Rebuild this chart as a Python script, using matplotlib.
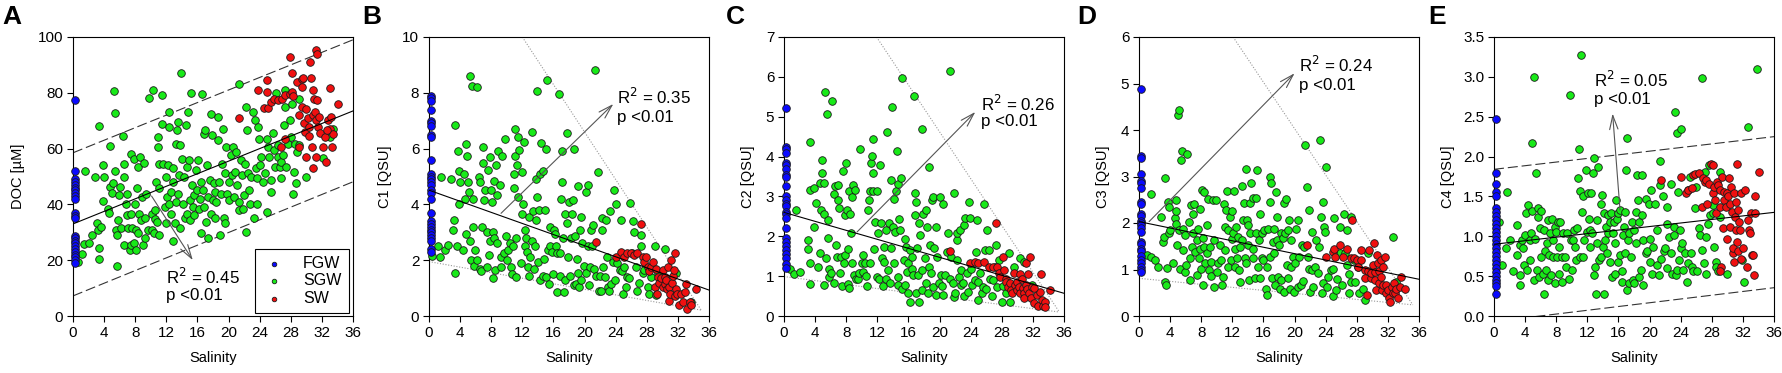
import numpy as np
import matplotlib
matplotlib.use('Agg')
import matplotlib.pyplot as plt

plt.rcParams['font.family'] = ['Liberation Sans', 'DejaVu Sans']

# ---------------- data ----------------
fgw_sal = 0.2  # fresh groundwater sits at salinity ~0

# Panel A: DOC [uM]
a_fgw = [77.5, 52, 49, 48, 47, 46, 45, 44, 43, 42, 37, 36, 35, 28.5, 28, 27, 26, 25, 24, 23, 22, 21, 20, 19]
a_sgw = [(0.6, 19.5), (1.1, 22.4), (1.6, 52), (1.4, 25.7), (2, 26), (2.5, 29), (2.8, 49.9), (3.1, 33.4), (3.2, 30.8),
         (3.4, 24.2), (3.3, 20.6), (3.3, 68.2), (3.6, 32), (3.8, 41.2), (3.9, 54), (4, 50), (4.5, 38.5), (4.6, 36.8),
         (4.7, 46.3), (4.8, 61), (5, 44), (5.1, 47.5), (5.3, 80.7), (5.4, 72.6), (5.4, 52), (5.5, 30.8), (5.6, 18),
         (5.7, 29), (5.8, 34.4), (5.9, 43.3), (6, 46.3), (6.2, 31.4), (6.4, 64.6), (6.5, 54.6), (6.6, 49.9), (6.6, 25.4),
         (6.8, 40.3), (6.9, 36.2), (7, 43.9), (7.1, 31.4), (7.3, 23.6), (7.4, 25.4), (7.4, 36.7), (7.5, 58), (7.6, 31.4),
         (7.8, 26.3), (7.9, 56.4), (8, 40.3), (8.1, 31), (8.1, 23.6), (8.2, 45.7), (8.3, 53.5), (8.4, 29.6), (8.5, 36.7),
         (8.6, 57), (8.8, 34.4), (8.9, 42.7), (9, 25.4), (9.1, 54.9), (9.2, 35), (9.3, 27.8), (9.4, 43.9), (9.6, 31),
         (9.8, 78.3), (10.1, 30.8), (10.2, 36.7), (10.3, 81.1), (10.4, 29.6), (10.5, 34.6), (10.6, 37.9), (10.7, 48.1),
         (10.8, 33.8), (10.9, 64.2), (10.9, 60.6), (11, 54.6), (11.1, 29), (11.1, 45.7), (11.4, 79.1), (11.5, 68.7),
         (11.6, 54.6), (11.8, 39.1), (11.9, 33.2), (12, 49.9), (12.1, 42.7), (12.2, 54), (12.3, 73.1), (12.3, 67.8),
         (12.4, 40.3), (12.6, 36.7), (12.6, 44.5), (12.8, 52.9), (12.9, 27), (12.9, 48.1), (13.1, 33.2), (13.2, 40.9),
         (13.3, 61.8), (13.4, 66.6), (13.5, 69.6), (13.5, 43.9), (13.6, 50.5), (13.7, 31.4), (13.8, 61.2), (13.9, 87.1),
         (14, 56.4), (14.1, 40.3), (14.3, 49.9), (14.4, 35), (14.5, 68.4), (14.6, 53.5), (14.7, 36.7), (14.8, 73.1),
         (14.9, 55.8), (15, 34.4), (15.1, 41.5), (15.2, 80), (15.3, 46.9), (15.4, 39.1), (15.6, 36.2), (15.6, 43.3),
         (15.8, 52.3), (15.9, 45.1), (16.1, 55.8), (16.2, 38.5), (16.3, 42.1), (16.4, 29.8), (16.5, 48.1), (16.6, 79.7),
         (16.7, 45.1), (16.8, 39.1), (16.9, 65.4), (17, 66.6), (17.1, 33.8), (17.2, 54), (17.4, 42.7), (17.4, 28),
         (17.6, 48.7), (17.7, 72.5), (17.8, 36.7), (17.9, 64.8), (18, 41.5), (18.1, 47.7), (18.2, 35), (18.3, 44.5),
         (18.4, 40.9), (18.6, 63), (18.6, 71.4), (18.8, 48.1), (18.9, 29), (19, 43.9), (19.1, 54.6), (19.3, 67.2),
         (19.4, 35), (19.5, 51.1), (19.6, 33.2), (19.7, 60.6), (19.8, 43.9), (20, 41.5), (20.1, 48.1), (20.3, 57.6),
         (20.4, 50.5), (20.6, 60.6), (20.7, 42.7), (20.8, 51.7), (21, 58.8), (21.1, 46.9), (21.3, 83.3), (21.3, 37.9),
         (21.4, 40.9), (21.6, 55.8), (21.7, 50.5), (21.8, 38.5), (22, 43.3), (22.1, 54.6), (22.2, 30.2), (22.3, 74.9),
         (22.4, 66.6), (22.5, 51.1), (22.6, 45.1), (22.7, 40.3), (22.9, 49.9), (23.1, 73.1), (23.3, 35), (23.4, 70.2),
         (23.5, 52.9), (23.6, 40.3), (23.7, 49.3), (23.8, 67.8), (23.9, 63.6), (24, 54), (24.2, 57), (24.4, 48.1),
         (24.7, 51.1), (24.9, 37.4), (25, 63.6), (25.1, 60.6), (25.2, 57), (25.4, 48.7), (25.5, 44.5), (25.7, 65.6),
         (25.8, 59.4), (26, 53.5), (26.1, 80.1), (26.3, 61.2), (26.4, 57), (26.6, 53.5), (26.7, 49.3), (26.8, 55.3),
         (27, 57.6), (27.1, 68.4), (27.3, 80.9), (27.3, 74.9), (27.4, 53.5), (27.6, 61.8), (27.9, 70.2), (28, 64.2),
         (28.1, 76.1), (28.3, 43.9), (28.4, 51.7), (28.5, 61.6), (28.7, 47.5), (28.8, 58.8), (29, 77.6), (29.1, 61.2),
         (30, 49.9), (32.1, 56.7), (33.4, 66.9), (33.1, 64.2)]
a_sw = [(21.4, 70.8), (23.8, 81.1), (24.6, 74.7), (24.9, 84.5), (24.9, 80.3), (25.1, 74.7), (25.5, 76.7), (25.8, 77.9),
        (26.4, 77.3), (26.9, 77.9), (27.2, 63.6), (26.8, 60.6), (27.3, 79.1), (27.9, 79.5), (27.9, 92.8), (28.1, 87.1),
        (28.2, 80.3), (28.3, 78.8), (28.8, 83.9), (29.1, 72), (29.1, 60.6), (29.4, 85), (29.4, 81.9), (29.5, 74.9),
        (29.6, 85.4), (29.7, 69), (29.8, 66), (30, 74.3), (30, 57), (30.2, 70.8), (30.3, 67.8), (30.4, 64.4), (30.5, 91),
        (30.6, 85.4), (30.7, 60.6), (30.8, 72), (30.9, 80.9), (30.9, 52.9), (31, 77.9), (31.1, 73.1), (31.2, 70.2),
        (31.3, 95.2), (31.3, 57), (31.4, 94), (31.4, 77.3), (31.5, 67.8), (31.6, 71.4), (31.8, 65.6), (32.1, 60.6),
        (32.4, 64), (32.5, 55.3), (32.8, 70.2), (33, 81.7), (33.1, 67.2), (33.3, 60.6), (33.4, 65.4), (33.2, 71.4),
        (34.1, 75.9), (32.6, 66.6)]

# Panel B: C1 [QSU]
b_fgw = [7.9, 7.8, 7.7, 7.4, 7.0, 6.9, 6.8, 6.5, 6.4, 5.6, 5.1, 5.0, 4.9, 4.8, 4.7, 4.5, 4.4, 4.2, 3.7, 3.4, 3.3,
         3.2, 3.1, 3.0, 2.9, 2.8, 2.7, 2.4, 2.3]
b_sgw = [(0.4, 2.15), (1.1, 2.5), (1.4, 2.1), (1.6, 5.0), (2.1, 2.35), (2.5, 2.55), (2.8, 4.9), (3.1, 3.1), (3.2, 3.45),
         (3.4, 1.55), (3.4, 6.85), (3.6, 2.5), (3.7, 5.9), (3.8, 4.0), (3.8, 5.2), (4.0, 4.8), (4.4, 2.35), (4.5, 5.1),
         (4.6, 4.2), (4.7, 6.15), (4.8, 2.95), (4.9, 5.75), (5.0, 4.8), (5.1, 4.45), (5.3, 8.6), (5.3, 2.7), (5.4, 2.0),
         (5.5, 8.25), (5.6, 4.2), (5.7, 3.2), (5.8, 1.8), (5.9, 2.35), (6.2, 8.2), (6.2, 2.0), (6.4, 5.0), (6.5, 1.7),
         (6.6, 4.8), (6.7, 1.6), (6.8, 3.2), (6.9, 5.5), (7.0, 6.05), (7.1, 4.15), (7.2, 4.5), (7.4, 3.0), (7.5, 1.75),
         (7.6, 5.25), (7.7, 2.2), (7.8, 2.7), (7.9, 5.7), (8.0, 4.5), (8.1, 4.1), (8.2, 1.35), (8.2, 3.0), (8.3, 4.85),
         (8.4, 2.8), (8.5, 1.65), (8.6, 5.4), (8.7, 4.35), (8.7, 2.6), (8.9, 5.9), (9.1, 4.7), (9.2, 2.1), (9.3, 1.75),
         (9.4, 5.75), (9.6, 2.25), (9.8, 6.35), (9.9, 2.85), (10.0, 2.0), (10.2, 2.35), (10.4, 2.6), (10.5, 1.75),
         (10.7, 1.5), (10.8, 2.5), (10.9, 5.1), (10.9, 4.6), (11.0, 5.75), (11.1, 6.7), (11.2, 1.4), (11.2, 2.8),
         (11.3, 5.4), (11.4, 6.4), (11.5, 4.25), (11.6, 5.95), (11.8, 1.9), (11.9, 5.15), (12.0, 3.65), (12.1, 4.0),
         (12.2, 6.25), (12.3, 2.5), (12.4, 3.1), (12.5, 2.8), (12.6, 2.3), (12.7, 1.75), (12.8, 3.55), (12.9, 1.45),
         (13.0, 2.1), (13.2, 2.7), (13.3, 6.6), (13.4, 3.75), (13.5, 1.7), (13.6, 2.5), (13.7, 4.9), (13.8, 3.45),
         (13.9, 8.05), (13.9, 4.25), (14.0, 1.95), (14.1, 3.8), (14.3, 1.3), (14.3, 5.1), (14.4, 6.2), (14.6, 5.2),
         (14.7, 1.45), (14.8, 2.05), (14.9, 3.8), (15.0, 1.4), (15.1, 6.0), (15.2, 8.45), (15.3, 2.35), (15.4, 1.15),
         (15.5, 2.5), (15.6, 3.2), (15.8, 2.3), (15.9, 1.5), (16.1, 3.1), (16.2, 2.95), (16.3, 2.5), (16.4, 0.85),
         (16.5, 2.25), (16.7, 7.95), (16.8, 1.45), (16.9, 2.25), (17.0, 4.2), (17.1, 5.9), (17.1, 4.8), (17.2, 2.8),
         (17.4, 0.85), (17.5, 3.65), (17.5, 1.3), (17.7, 3.35), (17.8, 6.55), (17.9, 2.1), (18.0, 4.1), (18.1, 1.45),
         (18.2, 2.8), (18.4, 3.65), (18.5, 4.15), (18.6, 1.1), (18.6, 6.0), (18.8, 2.85), (18.9, 1.15), (19.0, 2.05),
         (19.1, 1.55), (19.2, 4.65), (19.3, 1.05), (19.4, 3.1), (19.5, 3.55), (19.6, 1.3), (19.7, 2.6), (19.9, 1.8),
         (20.2, 4.45), (20.2, 1.55), (20.4, 4.7), (20.5, 2.5), (20.6, 1.1), (20.7, 1.75), (20.8, 3.1), (20.9, 2.5),
         (21.1, 3.25), (21.2, 1.7), (21.4, 8.8), (21.5, 1.45), (21.7, 5.15), (21.9, 0.9), (22.0, 1.45), (22.1, 0.9),
         (22.2, 3.1), (22.3, 3.5), (22.4, 1.75), (22.6, 1.4), (22.7, 3.45), (22.9, 2.1), (23.0, 1.05), (23.2, 0.9),
         (23.3, 3.75), (23.4, 1.15), (23.6, 1.95), (23.8, 4.5), (23.9, 1.3), (24.1, 4.0), (24.2, 1.9), (24.5, 1.65),
         (24.7, 3.45), (24.8, 1.6), (24.9, 0.8), (25.1, 1.75), (25.3, 1.05), (25.5, 1.4), (25.7, 1.35), (25.9, 4.05),
         (26.1, 2.25), (26.2, 3.4), (26.4, 3.0), (26.6, 1.75), (26.8, 0.9), (27.0, 1.2), (27.2, 2.5), (27.3, 2.9),
         (27.5, 1.55), (27.7, 1.65), (28.1, 1.05), (28.3, 0.8), (28.6, 1.4), (29.0, 2.5), (29.2, 0.75), (29.4, 1.55),
         (30.3, 2.4), (31.8, 1.55), (33.7, 0.5)]
b_sw = [(21.5, 2.65), (24.0, 2.1), (24.7, 2.3), (25.1, 2.1), (25.5, 2.25), (26.0, 2.25), (26.4, 2.2), (26.8, 2.25),
        (27.3, 3.3), (27.5, 2.1), (27.7, 1.95), (27.9, 2.1), (28.1, 1.75), (28.3, 1.6), (28.6, 1.75), (28.8, 1.95),
        (29.0, 1.05), (29.2, 1.7), (29.3, 0.8), (29.5, 1.4), (29.6, 1.2), (29.8, 1.35), (30.1, 1.65), (30.1, 1.05),
        (30.3, 1.15), (30.4, 1.4), (30.5, 1.3), (30.6, 0.95), (30.7, 1.75), (30.8, 0.55), (30.9, 1.05), (31.0, 0.8),
        (31.1, 2.0), (31.2, 1.2), (31.4, 1.45), (31.5, 1.65), (31.6, 2.25), (31.6, 0.7), (31.8, 0.95), (31.9, 0.8),
        (32.2, 0.4), (32.4, 0.8), (32.6, 0.5), (32.9, 0.85), (33.1, 1.15), (33.2, 0.25), (33.5, 0.5), (33.7, 0.4),
        (34.3, 0.95)]

# Panel C: C2 [QSU]
c_fgw = [5.22, 4.25, 4.2, 4.1, 3.85, 3.8, 3.7, 3.55, 3.5, 3.25, 3.0, 2.9, 2.8, 2.75, 2.6, 2.55, 2.45, 2.2, 1.95,
         1.85, 1.75, 1.65, 1.55, 1.45, 1.3, 1.2]
c_sgw = [(0.8, 1.18), (1.3, 1.05), (1.6, 2.67), (2.1, 1.1), (3.3, 3.17), (3.4, 4.37), (3.1, 1.9), (3.1, 1.67),
         (3.4, 1.33), (3.4, 0.8), (3.8, 2.24), (3.9, 3.2), (4.1, 2.84), (4.4, 1.24), (4.6, 1.57), (4.6, 3.34), (4.7, 2.67),
         (4.9, 3.91), (4.9, 3.58), (5.1, 2.57), (5.2, 0.78), (5.2, 3.34), (5.3, 5.62), (5.4, 1.45), (5.5, 5.08), (5.6, 2.4),
         (5.7, 1.95), (5.8, 0.99), (5.8, 1.19), (6.0, 1.07), (6.2, 5.4), (6.4, 0.82), (6.4, 3.07), (6.6, 3.26), (6.7, 1.78),
         (6.8, 1.47), (6.9, 2.91), (7.0, 3.28), (7.1, 2.7), (7.2, 1.07), (7.3, 1.49), (7.4, 0.75), (7.6, 3.64), (7.7, 1.32),
         (7.8, 1.53), (7.9, 2.53), (8.0, 3.84), (8.1, 2.67), (8.2, 0.8), (8.2, 1.67), (8.3, 3.14), (8.4, 0.69), (8.5, 2.57),
         (8.6, 2.07), (8.7, 2.99), (8.8, 1.32), (8.9, 3.28), (9.0, 1.03), (9.1, 3.17), (9.3, 0.92), (9.5, 0.94),
         (9.7, 1.07), (9.8, 4.2), (10.0, 1.32), (10.1, 1.53), (10.2, 1.11), (10.4, 1.32), (10.5, 1.0), (10.7, 0.75),
         (10.8, 2.66), (10.9, 2.91), (11.0, 3.14), (11.1, 1.32), (11.2, 3.84), (11.3, 4.01), (11.4, 3.14), (11.4, 3.58),
         (11.5, 4.45), (11.6, 1.67), (11.7, 2.36), (11.9, 0.99), (11.9, 3.14), (12.1, 2.07), (12.2, 0.92), (12.4, 3.78),
         (12.5, 2.34), (12.6, 1.45), (12.7, 0.75), (12.8, 1.36), (12.9, 1.74), (13.1, 2.16), (13.1, 0.92), (13.2, 4.61),
         (13.4, 1.15), (13.5, 2.34), (13.6, 0.84), (13.7, 1.7), (13.8, 3.41), (13.9, 5.25), (14.0, 2.24), (14.1, 1.32),
         (14.2, 2.93), (14.3, 2.11), (14.4, 3.13), (14.5, 4.14), (14.6, 0.78), (14.6, 3.31), (14.7, 0.99), (14.8, 2.44),
         (14.9, 2.16), (15.1, 3.45), (15.2, 5.98), (15.2, 0.67), (15.4, 1.4), (15.5, 1.92), (15.6, 0.79), (15.7, 1.74),
         (15.8, 1.11), (15.9, 0.57), (16.0, 1.32), (16.2, 1.65), (16.2, 0.36), (16.4, 1.17), (16.5, 1.49), (16.6, 1.03),
         (16.7, 5.51), (16.8, 2.53), (16.9, 3.09), (17.0, 2.87), (17.0, 0.57), (17.1, 1.7), (17.2, 1.03), (17.3, 0.36),
         (17.4, 2.34), (17.5, 2.03), (17.7, 4.68), (17.7, 1.15), (17.8, 0.65), (17.9, 2.57), (18.1, 1.45), (18.2, 0.82),
         (18.3, 2.67), (18.4, 2.24), (18.5, 0.57), (18.6, 3.74), (18.7, 1.24), (18.8, 1.78), (18.9, 1.07), (19.0, 2.91),
         (19.2, 0.72), (19.2, 2.99), (19.3, 1.7), (19.5, 0.53), (19.6, 2.24), (19.7, 1.49), (19.9, 0.82), (20.0, 2.99),
         (20.2, 1.03), (20.3, 0.75), (20.4, 2.82), (20.5, 0.53), (20.7, 1.03), (21.0, 1.61), (21.1, 2.07), (21.3, 0.94),
         (21.4, 6.15), (21.5, 1.49), (21.7, 0.84), (21.8, 3.09), (21.9, 0.48), (22.0, 0.57), (22.2, 1.9), (22.2, 2.07),
         (22.3, 1.4), (22.5, 0.97), (22.6, 2.16), (22.7, 0.78), (22.8, 1.15), (23.0, 0.84), (23.1, 0.5), (23.2, 2.28),
         (23.3, 2.45), (23.5, 1.07), (23.6, 0.61), (23.8, 2.87), (23.9, 2.45), (24.0, 1.19), (24.2, 0.78), (24.5, 0.9),
         (24.7, 1.61), (24.8, 2.4), (24.9, 0.4), (25.0, 0.86), (25.2, 1.07), (25.4, 0.57), (25.6, 0.74), (25.7, 2.81),
         (25.8, 1.65), (26.0, 0.67), (26.1, 2.16), (26.3, 1.65), (26.5, 0.94), (26.8, 0.5), (26.9, 0.9), (27.1, 1.24),
         (27.2, 1.78), (27.4, 0.74), (27.6, 1.4), (28.0, 0.36), (28.2, 0.75), (28.5, 0.57), (28.9, 1.57), (29.1, 0.36),
         (29.6, 1.24), (30.3, 1.45), (30.9, 1.36), (31.9, 0.78), (33.4, 0.32)]
c_sw = [(21.4, 1.64), (23.9, 1.34), (24.6, 1.36), (25.0, 1.32), (25.7, 1.36), (26.3, 1.24), (26.9, 1.24), (27.2, 2.34),
        (27.4, 1.24), (27.6, 1.07), (27.8, 0.99), (28.1, 1.49), (28.3, 1.15), (28.5, 0.94), (28.6, 0.86), (28.8, 0.74),
        (29.0, 0.82), (29.2, 0.65), (29.3, 0.57), (29.6, 1.07), (29.7, 0.78), (29.9, 0.65), (30.0, 0.86), (30.2, 0.74),
        (30.3, 0.57), (30.4, 1.05), (30.6, 0.94), (30.7, 0.69), (30.8, 0.57), (30.9, 0.44), (31.1, 0.78), (31.1, 1.32),
        (31.3, 0.67), (31.4, 1.05), (31.5, 0.57), (31.6, 1.49), (31.7, 0.44), (31.9, 0.72), (32.2, 0.33), (32.5, 0.53),
        (32.6, 0.25), (32.9, 0.61), (33.0, 1.05), (33.2, 0.4), (33.3, 0.25), (33.5, 0.36), (33.6, 0.23), (34.2, 0.65),
        (32.1, 0.69)]

# Panel D: C3 [QSU]
d_fgw = [4.88, 3.45, 3.4, 3.05, 2.9, 2.85, 2.75, 2.45, 2.4, 2.2, 2.15, 2.05, 2.0, 1.95, 1.9, 1.8, 1.6, 1.55, 1.45,
         1.4, 1.3, 1.2, 1.15, 1.05, 1.0, 0.95]
d_sgw = [(0.5, 1.31), (1.0, 1.31), (1.5, 1.27), (1.6, 2.62), (2.1, 1.2), (2.5, 1.06), (2.8, 2.13), (3.1, 1.6), (3.2, 1.69),
         (3.4, 2.96), (3.4, 0.74), (3.5, 0.67), (3.6, 1.04), (3.7, 2.46), (3.8, 2.35), (3.9, 1.78), (4.0, 1.85), (4.4, 1.13),
         (4.6, 2.1), (4.7, 1.98), (4.7, 2.49), (4.8, 2.26), (4.9, 1.52), (5.0, 4.32), (5.1, 4.42), (5.2, 1.85), (5.3, 1.02),
         (5.4, 3.36), (5.5, 3.55), (5.6, 1.88), (5.7, 1.42), (5.9, 0.95), (5.9, 1.75), (6.1, 1.1), (6.2, 3.49), (6.4, 2.03),
         (6.5, 1.24), (6.6, 0.77), (6.7, 2.38), (6.8, 1.49), (6.9, 1.78), (7.0, 2.19), (7.1, 2.41), (7.2, 1.38), (7.4, 0.88),
         (7.5, 1.63), (7.6, 1.88), (7.7, 1.24), (7.8, 1.45), (7.9, 2.31), (8.0, 1.02), (8.1, 2.71), (8.2, 0.67), (8.2, 1.67),
         (8.3, 2.67), (8.4, 1.49), (8.5, 1.13), (8.7, 1.95), (8.7, 1.35), (8.9, 2.51), (9.0, 0.99), (9.1, 1.49), (9.2, 1.17),
         (9.3, 0.87), (9.5, 2.49), (9.6, 0.62), (9.7, 1.63), (9.9, 2.49), (10.0, 0.95), (10.2, 1.13), (10.4, 1.52),
         (10.6, 1.2), (10.7, 0.67), (10.8, 0.84), (10.9, 2.41), (11.0, 1.42), (11.1, 1.92), (11.2, 2.28), (11.3, 2.69),
         (11.4, 1.06), (11.5, 1.85), (11.7, 2.13), (11.8, 1.2), (11.9, 1.65), (12.0, 2.26), (12.1, 1.78), (12.2, 2.69),
         (12.3, 1.06), (12.4, 1.45), (12.5, 1.92), (12.6, 1.24), (12.7, 1.7), (12.9, 0.99), (13.0, 1.49), (13.0, 0.74),
         (13.2, 1.63), (13.3, 2.79), (13.4, 2.06), (13.5, 2.42), (13.6, 1.24), (13.7, 1.13), (13.8, 3.17), (13.9, 2.06),
         (14.0, 1.52), (14.0, 1.95), (14.1, 0.77), (14.3, 1.78), (14.3, 2.43), (14.4, 2.85), (14.6, 1.45), (14.6, 2.53),
         (14.7, 1.24), (14.9, 0.81), (15.0, 1.78), (15.1, 2.53), (15.2, 3.15), (15.3, 1.06), (15.4, 1.63), (15.5, 2.2),
         (15.6, 0.81), (15.8, 1.24), (15.8, 1.78), (16.0, 1.2), (16.1, 1.85), (16.3, 0.59), (16.4, 0.45), (16.5, 1.06),
         (16.6, 1.88), (16.8, 2.99), (16.8, 1.27), (16.9, 2.46), (17.0, 2.86), (17.1, 0.81), (17.2, 1.6), (17.3, 1.35),
         (17.4, 1.88), (17.5, 0.67), (17.6, 2.67), (17.7, 1.63), (17.8, 2.13), (17.9, 0.84), (18.0, 1.52), (18.1, 0.59),
         (18.2, 1.78), (18.3, 0.77), (18.5, 1.67), (18.6, 2.42), (18.7, 0.52), (18.8, 1.78), (18.9, 2.51), (19.0, 1.1),
         (19.1, 1.85), (19.2, 0.81), (19.3, 2.06), (19.4, 0.59), (19.5, 1.06), (19.6, 1.63), (19.8, 1.27), (19.9, 0.52),
         (20.1, 1.13), (20.2, 1.88), (20.4, 0.63), (20.5, 2.06), (20.6, 1.27), (20.8, 0.67), (20.9, 1.52), (21.1, 0.76),
         (21.2, 1.49), (21.4, 3.67), (21.6, 2.78), (21.7, 1.27), (21.8, 1.02), (21.9, 2.29), (22.0, 0.52), (22.2, 0.99),
         (22.3, 1.81), (22.4, 0.63), (22.6, 1.06), (22.8, 1.63), (23.0, 0.92), (23.1, 1.49), (23.3, 3.78), (23.4, 2.13),
         (23.5, 0.49), (23.6, 0.7), (23.7, 2.46), (23.8, 1.92), (23.9, 1.81), (24.1, 3.21), (24.2, 0.63), (24.3, 0.84),
         (24.7, 0.99), (24.9, 0.42), (25.0, 1.02), (25.1, 2.1), (25.3, 0.56), (25.5, 0.79), (25.8, 1.35), (25.9, 1.92),
         (26.1, 0.67), (26.3, 2.2), (26.5, 1.35), (26.7, 1.85), (26.8, 1.1), (27.0, 0.9), (27.0, 0.49), (27.2, 0.74),
         (27.3, 2.13), (27.6, 1.2), (27.8, 0.74), (28.1, 1.06), (28.3, 0.49), (28.8, 0.59), (29.1, 0.34), (29.4, 1.35),
         (32.6, 1.7), (33.1, 0.74)]
d_sw = [(21.6, 1.52), (24.0, 1.27), (24.9, 1.38), (25.1, 1.45), (25.2, 1.27), (25.8, 1.52), (26.2, 1.27), (26.8, 1.45),
        (27.2, 1.24), (27.4, 2.06), (27.7, 1.24), (28.0, 1.2), (28.2, 1.06), (28.5, 1.2), (28.6, 1.42), (29.0, 0.81),
        (29.1, 0.99), (29.3, 0.45), (29.5, 0.97), (29.6, 1.42), (29.8, 0.81), (29.8, 0.92), (30.1, 1.1), (30.2, 1.56),
        (30.3, 0.95), (30.4, 0.77), (30.5, 0.56), (30.6, 1.31), (30.7, 1.13), (30.8, 0.97), (30.9, 0.7), (31.1, 1.2),
        (31.1, 0.84), (31.2, 0.56), (31.4, 1.06), (31.4, 0.67), (31.6, 1.27), (31.7, 0.49), (31.8, 0.67), (32.0, 0.56),
        (32.2, 0.38), (32.3, 0.31), (32.5, 0.63), (32.6, 0.49), (32.8, 0.7), (32.9, 0.49), (33.1, 0.59), (33.3, 0.38),
        (33.5, 0.63), (33.7, 0.84), (34.2, 0.59)]

# Panel E: C4 [QSU]
e_fgw = [2.47, 1.8, 1.66, 1.55, 1.5, 1.35, 1.3, 1.25, 1.2, 1.15, 1.1, 1.05, 1.0, 0.95, 0.9, 0.85, 0.8, 0.75, 0.7,
         0.65, 0.6, 0.55, 0.5, 0.45, 0.42, 0.38, 0.28]
e_sgw = [(0.6, 1.18), (1.0, 0.64), (1.5, 0.85), (1.7, 1.55), (2.1, 0.95), (2.5, 0.56), (2.9, 0.76), (3.0, 1.14), (3.3, 0.89),
         (3.4, 0.51), (3.4, 0.39), (3.6, 0.95), (3.7, 0.85), (3.8, 0.64), (4.0, 1.02), (4.1, 1.29), (4.2, 0.58), (4.4, 1.39),
         (4.6, 0.7), (4.6, 0.95), (4.7, 1.04), (4.9, 1.32), (4.9, 2.17), (5.1, 3.0), (5.2, 0.45), (5.3, 0.97), (5.4, 1.79),
         (5.5, 0.58), (5.6, 1.35), (5.7, 1.24), (5.8, 0.49), (5.9, 1.1), (6.1, 0.74), (6.1, 1.32), (6.3, 0.53), (6.4, 1.08),
         (6.4, 0.28), (6.6, 0.81), (6.7, 0.58), (6.8, 0.91), (6.9, 1.2), (7.0, 0.45), (7.1, 0.76), (7.2, 1.04), (7.3, 0.51),
         (7.5, 1.22), (7.6, 0.95), (7.6, 0.74), (7.8, 1.12), (7.9, 0.42), (8.0, 1.06), (8.1, 0.74), (8.2, 1.18), (8.3, 0.53),
         (8.4, 0.87), (8.5, 1.18), (8.7, 0.74), (8.8, 0.43), (8.9, 1.04), (9.1, 0.74), (9.2, 0.62), (9.4, 1.04), (9.6, 0.47),
         (9.8, 2.77), (9.9, 0.95), (10.0, 0.58), (10.1, 0.95), (10.3, 1.08), (10.4, 0.87), (10.6, 0.7), (10.7, 1.1),
         (10.8, 1.73), (10.9, 2.1), (11.0, 0.74), (11.1, 1.57), (11.2, 3.27), (11.3, 1.31), (11.4, 1.5), (11.5, 0.74),
         (11.6, 0.95), (11.8, 1.83), (11.9, 1.06), (12.1, 1.54), (12.2, 1.22), (12.3, 0.87), (12.4, 1.08), (12.5, 1.54),
         (12.6, 1.04), (12.7, 1.79), (12.8, 1.98), (12.9, 0.51), (13.0, 0.62), (13.1, 0.28), (13.2, 1.2), (13.3, 0.91),
         (13.4, 1.87), (13.5, 0.7), (13.7, 0.74), (13.7, 1.41), (13.9, 1.52), (14.0, 0.87), (14.1, 1.29), (14.2, 0.28),
         (14.3, 0.95), (14.4, 1.12), (14.5, 0.79), (14.6, 1.27), (14.7, 1.04), (14.9, 1.18), (14.9, 0.68), (15.1, 1.29),
         (15.2, 0.49), (15.3, 1.04), (15.4, 1.18), (15.5, 0.53), (15.6, 0.91), (15.7, 1.45), (15.8, 1.22), (15.9, 0.68),
         (16.0, 1.29), (16.2, 0.76), (16.2, 1.33), (16.4, 0.56), (16.5, 0.43), (16.6, 1.02), (16.7, 1.12), (16.8, 1.31),
         (16.9, 0.79), (17.0, 1.83), (17.1, 2.23), (17.1, 0.33), (17.2, 0.95), (17.3, 0.41), (17.4, 1.04), (17.6, 0.74),
         (17.7, 1.18), (17.9, 0.45), (18.0, 1.08), (18.0, 0.41), (18.2, 1.31), (18.3, 0.91), (18.4, 1.77), (18.5, 1.45),
         (18.6, 1.18), (18.7, 0.49), (18.9, 0.58), (19.0, 1.77), (19.0, 1.27), (19.2, 0.95), (19.2, 0.39), (19.5, 0.79),
         (19.6, 1.47), (19.7, 0.81), (19.9, 1.41), (20.0, 0.97), (20.1, 0.68), (20.2, 1.58), (20.3, 0.53), (20.4, 0.87),
         (20.7, 1.41), (20.9, 0.64), (21.0, 1.08), (21.2, 0.51), (21.3, 1.64), (21.4, 1.95), (21.5, 0.72), (21.7, 1.5),
         (21.8, 0.81), (22.0, 0.85), (22.2, 1.37), (22.3, 0.6), (22.3, 1.16), (22.5, 0.99), (22.7, 1.66), (22.8, 0.79),
         (22.9, 0.53), (23.1, 1.02), (23.2, 1.12), (23.3, 2.56), (23.4, 0.51), (23.5, 2.29), (23.5, 0.58), (23.7, 1.56),
         (23.8, 0.7), (23.9, 1.08), (24.0, 2.35), (24.1, 0.85), (24.2, 0.91), (24.3, 0.58), (24.6, 0.79), (24.8, 0.43),
         (25.0, 0.66), (25.0, 1.58), (25.2, 1.75), (25.3, 0.79), (25.5, 0.62), (25.6, 0.56), (25.9, 1.35), (26.0, 1.62),
         (26.1, 0.56), (26.3, 1.1), (26.5, 1.02), (26.7, 2.98), (26.8, 0.83), (27.0, 0.66), (27.1, 1.81), (27.2, 0.99),
         (27.3, 0.53), (27.5, 1.16), (27.6, 1.89), (27.8, 1.27), (28.1, 1.29), (28.2, 1.39), (28.3, 0.87), (28.5, 0.68),
         (28.6, 0.62), (28.8, 0.56), (29.0, 1.24), (29.1, 1.81), (30.0, 0.53), (31.9, 0.7), (32.1, 0.43), (32.7, 2.37),
         (33.8, 3.1)]
e_sw = [(21.5, 1.7), (24.0, 1.75), (24.7, 1.54), (24.9, 1.58), (25.5, 1.6), (25.6, 1.77), (25.9, 1.78), (26.3, 1.79),
        (26.7, 1.37), (26.9, 1.73), (27.1, 1.68), (27.3, 1.7), (27.4, 1.41), (27.7, 1.66), (27.9, 1.91), (28.1, 1.54),
        (28.2, 1.89), (28.3, 1.62), (28.4, 1.45), (28.5, 1.29), (28.7, 1.68), (28.8, 1.64), (29.0, 1.58), (29.1, 1.37),
        (29.2, 0.62), (29.1, 0.56), (29.3, 1.75), (29.5, 1.1), (29.6, 1.45), (29.6, 1.56), (29.8, 1.37), (29.9, 0.97),
        (30.0, 1.54), (30.1, 1.5), (30.2, 1.73), (30.3, 1.41), (30.4, 1.12), (30.5, 1.62), (30.6, 1.31), (30.7, 0.79),
        (30.7, 0.85), (30.8, 0.68), (30.9, 1.54), (31.0, 1.24), (31.1, 1.08), (31.1, 1.43), (31.2, 0.93), (31.3, 1.91),
        (31.4, 0.81), (31.4, 1.33), (31.5, 1.18), (31.6, 1.08), (31.7, 1.54), (31.8, 0.72), (32.0, 0.85), (32.3, 1.58),
        (32.5, 0.62), (32.7, 1.2), (32.8, 1.08), (32.9, 1.04), (33.1, 1.29), (33.2, 0.76), (33.4, 0.51), (33.5, 1.5),
        (33.5, 1.29), (34.1, 1.81), (33.3, 0.76)]

# fitted lines: (y at S=0, y at S=36) and envelope lines
fits = {
    'A': dict(fit=(33, 73.5), band=[((0, 58.5), (36, 99)), ((0, 7.2), (36, 48.1))], band_style='dashed'),
    'B': dict(fit=(4.51, 0.93), band=[((12.0, 10.0), (35, 0.21)), ((0, 1.95), (35, 0.21))], band_style='dotted'),
    'C': dict(fit=(2.6, 0.57), band=[((11.9, 7.0), (35.4, 0.1)), ((0, 0.99), (35.4, 0.1))], band_style='dotted'),
    'D': dict(fit=(2.03, 0.79), band=[((12.1, 6.0), (35.2, 0.24)), ((0, 0.81), (35.2, 0.24))], band_style='dotted'),
    'E': dict(fit=(0.9, 1.3), band=[((0, 1.84), (36, 2.25)), ((0, -0.07), (36, 0.355))], band_style='dashed'),
}
r2_labels = {'A': '0.45', 'B': '0.35', 'C': '0.26', 'D': '0.24', 'E': '0.05'}
# arrow (from, to) and text anchor (x, y of R2 line, y of p line)
arrows = {
    'A': ((10.1, 43), (15.4, 20), (12.0, 14.0, 7.5)),
    'B': ((9.26, 3.68), (23.7, 7.6), (24.2, 7.85, 7.1)),
    'C': ((9.4, 2.11), (24.6, 5.12), (25.3, 5.33, 4.87)),
    'D': ((1.3, 2.03), (20.0, 5.22), (20.6, 5.39, 4.96)),
    'E': ((16.2, 1.33), (15.25, 2.54), (12.8, 2.96, 2.71)),
}

panels = [
    ('A', 'DOC [\u00b5M]', a_fgw, a_sgw, a_sw, (0, 100), np.arange(0, 101, 20), '%d', 48),
    ('B', 'C1 [QSU]', b_fgw, b_sgw, b_sw, (0, 10), np.arange(0, 11, 2), '%d', 37),
    ('C', 'C2 [QSU]', c_fgw, c_sgw, c_sw, (0, 7), np.arange(0, 8, 1), '%d', 29),
    ('D', 'C3 [QSU]', d_fgw, d_sgw, d_sw, (0, 6), np.arange(0, 7, 1), '%d', 29),
    ('E', 'C4 [QSU]', e_fgw, e_sgw, e_sw, (0, 3.5), np.arange(0, 3.6, 0.5), '%.1f', 39),
]

col_fgw = '#0a0aff'
col_sgw = '#18ea18'
col_sw = '#f01010'

fig = plt.figure(figsize=(17.83, 3.73), dpi=100)
lefts = [73, 429, 784, 1139, 1494]
letter_x = [2, 362, 726, 1077, 1428]

for i, (key, ylab, fgw, sgw, sw, ylim, yticks, fmt, ylab_off) in enumerate(panels):
    ax = fig.add_axes([lefts[i] / 1783, 57 / 373, 280 / 1783, 279 / 373])
    sgw = np.array(sgw)
    sw = np.array(sw)
    kw = dict(s=30, edgecolors='#1a1a1a', linewidths=0.6, clip_on=False, zorder=3)
    ax.scatter(sgw[:, 0], sgw[:, 1], c=col_sgw, label='SGW', **kw)
    ax.scatter(sw[:, 0], sw[:, 1], c=col_sw, label='SW', **kw)
    ax.scatter(np.full(len(fgw), fgw_sal), fgw, c=col_fgw, label='FGW', **kw)

    f = fits[key]
    ax.plot([0, 36], f['fit'], color='black', lw=0.8, zorder=4)
    for p0, p1 in f['band']:
        if f['band_style'] == 'dashed':
            ax.plot([p0[0], p1[0]], [p0[1], p1[1]], color='#333333', lw=0.8, dashes=(9, 3.5), zorder=2)
        else:
            ax.plot([p0[0], p1[0]], [p0[1], p1[1]], color='#999999', lw=0.8, ls=(0, (1, 1.5)), zorder=2)

    a0, a1, (tx, ty1, ty2) = arrows[key]
    ax.annotate('', xy=a1, xytext=a0,
                arrowprops=dict(arrowstyle='->,head_length=1.0,head_width=0.3', color='#555555', lw=0.8,
                                shrinkA=0, shrinkB=0), zorder=5)
    ax.text(tx, ty1, r'R$^2$ = ' + r2_labels[key], fontsize=12.2, va='center', ha='left', zorder=6)
    ax.text(tx, ty2, 'p <0.01', fontsize=12.2, va='center', ha='left', zorder=6)

    ax.set_xlim(0, 36)
    ax.set_ylim(*ylim)
    ax.set_xticks(np.arange(0, 37, 4))
    ax.set_yticks(yticks)
    ax.set_yticklabels([fmt % v for v in yticks])
    ax.tick_params(direction='out', length=4, width=0.8, labelsize=11, pad=3)
    for sp in ax.spines.values():
        sp.set_linewidth(0.8)
    ax.set_xlabel('Salinity', fontsize=10.5)
    ax.set_ylabel(ylab, fontsize=10.5)
    ax.xaxis.set_label_coords(0.5, -0.125)
    ax.yaxis.set_label_coords(-ylab_off / 280, 0.5)

    fig.text(letter_x[i] / 1783, 1 - 5 / 373, key, fontsize=19, fontweight='bold', va='top', ha='left')

    if key == 'A':
        h, l = ax.get_legend_handles_labels()
        order = [2, 0, 1]
        leg = ax.legend([h[j] for j in order], [l[j] for j in order], loc='lower right',
                        bbox_to_anchor=(0.985, 0.011), borderaxespad=0, fontsize=11.5,
                        markerscale=0.6, handletextpad=1.0, labelspacing=0.15,
                        borderpad=0.45, handlelength=1.6, fancybox=False, framealpha=1)
        leg.get_frame().set_edgecolor('black')
        leg.get_frame().set_linewidth(0.8)
        leg.set_zorder(10)

fig.savefig('out.png', dpi=100)
